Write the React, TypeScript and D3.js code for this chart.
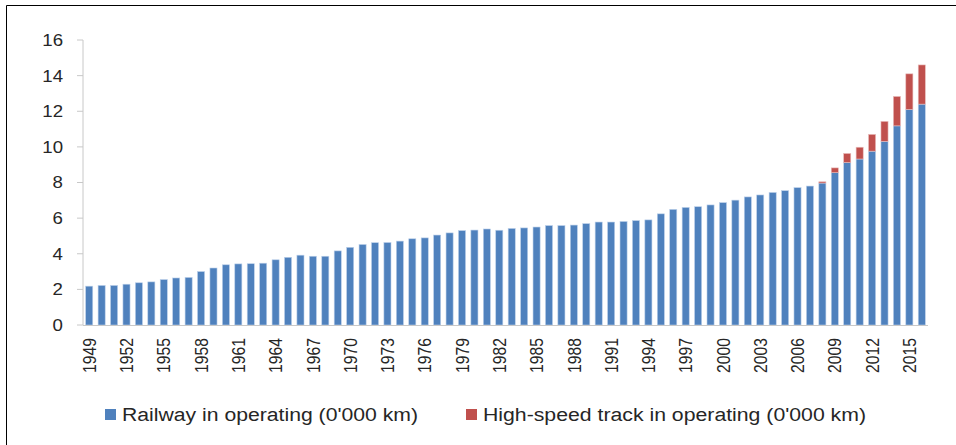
import React from "react";
import * as d3 from "d3";

const years: number[] = d3.range(1949, 2017);
const railway: number[] = [
  2.18, 2.22, 2.22, 2.29, 2.37, 2.42, 2.55, 2.64, 2.67, 3.0,
  3.2, 3.38, 3.43, 3.44, 3.47, 3.66, 3.8, 3.92, 3.86, 3.86,
  4.16, 4.36, 4.52, 4.62, 4.63, 4.71, 4.84, 4.89, 5.05, 5.17,
  5.3, 5.33, 5.39, 5.32, 5.42, 5.45, 5.5, 5.58, 5.58, 5.61,
  5.69, 5.78, 5.78, 5.81, 5.86, 5.9, 6.24, 6.49, 6.6, 6.64,
  6.74, 6.87, 7.01, 7.19, 7.3, 7.44, 7.54, 7.71, 7.8, 7.97,
  8.55, 9.12, 9.32, 9.76, 10.31, 11.18, 12.1, 12.4,
];
const hsrYears: number[] = [2008, 2009, 2010, 2011, 2012, 2013, 2014, 2015, 2016];
const hsr: number[] = [0.07, 0.27, 0.51, 0.66, 0.94, 1.12, 1.65, 2.0, 2.2];
const yTicks: number[] = [0, 2, 4, 6, 8, 10, 12, 14, 16];
const seriesNames: string[] = [
  "Railway in operating (0'000 km)",
  "High-speed track in operating (0'000 km)",
];

const W = 956;
const H = 445;
const BLUE = "#4F81BD";
const RED = "#C0504D";
const TEXT = "#262626";
const FONT = "'Liberation Sans', Arial, sans-serif";

export default function App() {
  const x = d3
    .scaleBand<number>()
    .domain(years)
    .range([83, 928])
    .paddingInner(0.43)
    .paddingOuter(0.215);
  const y = d3.scaleLinear().domain([0, 16]).range([325, 40]);
  const bw = x.bandwidth();
  const hsrMap = new Map<number, number>(hsrYears.map((yr, i) => [yr, hsr[i]]));
  const labelYears = years.filter((yr) => (yr - 1949) % 3 === 0);

  return (
    <div style={{ position: "fixed", left: 0, top: 0 }}>
      <svg width={W} height={H} style={{ display: "block", background: "#fff" }}>
        {/* frame */}
        <line x1={6.5} y1={5.5} x2={W} y2={5.5} stroke="#000" strokeWidth={1} />
        <line x1={6.5} y1={5.5} x2={6.5} y2={H} stroke="#000" strokeWidth={1} />

        {/* y axis */}
        <line x1={83} y1={y(16)} x2={83} y2={y(0)} stroke="#c8c8c8" strokeWidth={1} />
        {yTicks.map((t) => (
          <g key={t}>
            <line x1={77} x2={83} y1={y(t)} y2={y(t)} stroke="#c8c8c8" strokeWidth={1} />
            <text
              transform={`translate(63,${y(t)}) scale(1.13,1)`}
              textAnchor="end"
              dy="0.36em"
              fontFamily={FONT}
              fontSize={16.5}
              fill={TEXT}
            >
              {t}
            </text>
          </g>
        ))}

        {/* bars */}
        {years.map((yr, i) => {
          const v = railway[i];
          const h = hsrMap.get(yr) || 0;
          const x0 = x(yr) as number;
          return (
            <g key={yr}>
              <rect
                x={x0}
                y={y(v)}
                width={bw}
                height={y(0) - y(v)}
                fill={BLUE}
                stroke="#bcd0ea"
                strokeWidth={0.6}
              />
              {h > 0 && (
                <rect
                  x={x0}
                  y={y(v + h)}
                  width={bw}
                  height={y(v) - y(v + h)}
                  fill={RED}
                  stroke="#e8bcbb"
                  strokeWidth={0.6}
                />
              )}
            </g>
          );
        })}

        {/* x axis */}
        <line x1={83} x2={928} y1={y(0) + 0.5} y2={y(0) + 0.5} stroke="#c8c8c8" strokeWidth={1.2} />
        {labelYears.map((yr) => (
          <text
            key={yr}
            transform={`translate(${(x(yr) as number) + bw / 2},338) scale(1.18,1) rotate(-90)`}
            textAnchor="end"
            dy="0.36em"
            fontFamily={FONT}
            fontSize={15.7}
            fill={TEXT}
          >
            {yr}
          </text>
        ))}

        {/* legend */}
        <rect x={105} y={409} width={11} height={11} fill={BLUE} />
        <text
          x={122}
          y={420.5}
          fontFamily={FONT}
          fontSize={18}
          fill={TEXT}
          textLength={296}
          lengthAdjust="spacingAndGlyphs"
        >
          {seriesNames[0]}
        </text>
        <rect x={466} y={409} width={11} height={11} fill={RED} />
        <text
          x={483}
          y={420.5}
          fontFamily={FONT}
          fontSize={18}
          fill={TEXT}
          textLength={383}
          lengthAdjust="spacingAndGlyphs"
        >
          {seriesNames[1]}
        </text>
      </svg>
    </div>
  );
}
